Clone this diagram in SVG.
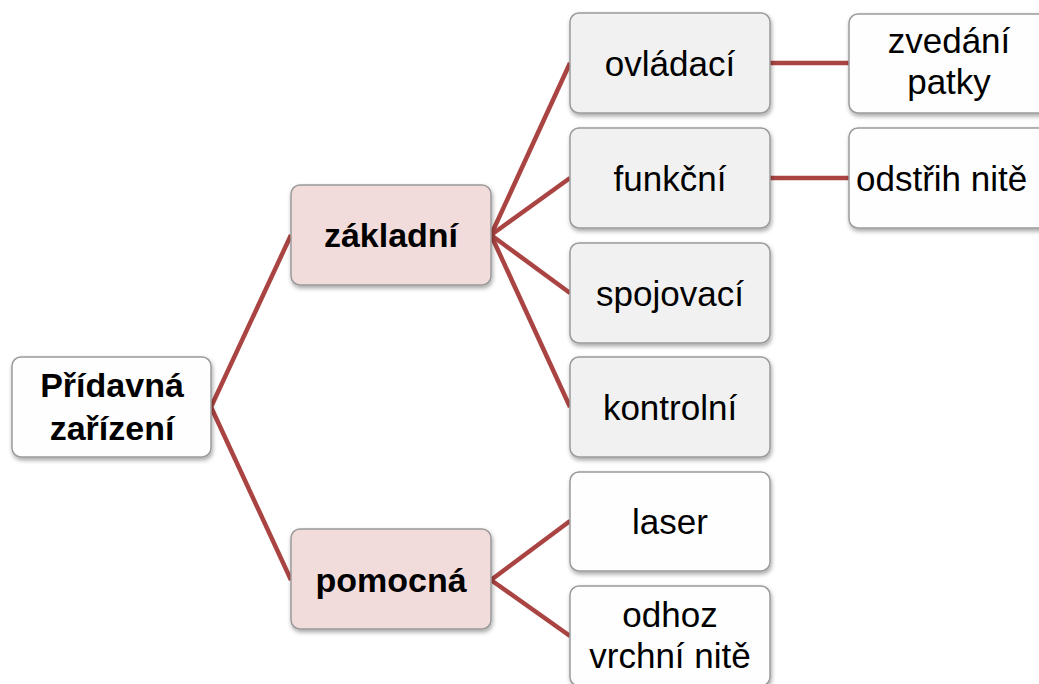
<svg xmlns="http://www.w3.org/2000/svg" width="1039" height="684" viewBox="0 0 1039 684">
  <style>
    .box { stroke: #9a9a9a; stroke-width: 1.5; filter: url(#shadow); }
    .plain { fill: #fefefe; }
    .grey { fill: #f1f1f1; }
    .pink { fill: #f2dcdb; }
    .t { font-family: "Liberation Sans", Arial, sans-serif; font-size: 35px; fill: #000; text-anchor: middle; }
    .b { font-weight: bold; font-size: 34px; }
    .link { stroke: #a94442; stroke-width: 4.5; fill: none; stroke-linejoin: round; }
  </style>
  <defs>
    <filter id="shadow" x="-10%" y="-10%" width="130%" height="140%">
      <feDropShadow dx="1" dy="2.5" stdDeviation="2" flood-color="#000" flood-opacity="0.35"/>
    </filter>
  </defs>
  <rect width="1039" height="684" fill="#ffffff"/>

  <g id="connectors">
    <polyline class="link" points="291,235 211,407 291,580"/>
    <line class="link" x1="491" y1="235" x2="570" y2="63"/>
    <line class="link" x1="491" y1="235" x2="570" y2="178"/>
    <line class="link" x1="491" y1="235" x2="570" y2="293"/>
    <line class="link" x1="491" y1="235" x2="570" y2="407"/>
    <line class="link" x1="491" y1="580" x2="570" y2="521"/>
    <line class="link" x1="491" y1="580" x2="570" y2="636"/>
    <line class="link" x1="770" y1="63" x2="849" y2="63"/>
    <line class="link" x1="770" y1="178" x2="849" y2="178"/>
  </g>

  <g id="node-root">
    <rect class="box plain" x="12" y="357" width="199" height="100" rx="9"/>
    <text class="t b" x="112" y="397">Přídavná</text>
    <text class="t b" x="112" y="440">zařízení</text>
  </g>

  <g id="node-zakladni">
    <rect class="box pink" x="291" y="185" width="200" height="100" rx="9"/>
    <text class="t b" x="391" y="247">základní</text>
  </g>

  <g id="node-pomocna">
    <rect class="box pink" x="291" y="529" width="200" height="100" rx="9"/>
    <text class="t b" x="391" y="592">pomocná</text>
  </g>

  <g id="node-ovladaci">
    <rect class="box grey" x="570" y="13" width="200" height="100" rx="9"/>
    <text class="t" x="670" y="76">ovládací</text>
  </g>

  <g id="node-funkcni">
    <rect class="box grey" x="570" y="128" width="200" height="100" rx="9"/>
    <text class="t" x="670" y="191">funkční</text>
  </g>

  <g id="node-spojovaci">
    <rect class="box grey" x="570" y="243" width="200" height="100" rx="9"/>
    <text class="t" x="670" y="306">spojovací</text>
  </g>

  <g id="node-kontrolni">
    <rect class="box grey" x="570" y="357" width="200" height="100" rx="9"/>
    <text class="t" x="670" y="420">kontrolní</text>
  </g>

  <g id="node-laser">
    <rect class="box plain" x="570" y="472" width="200" height="99" rx="9"/>
    <text class="t" x="670" y="534">laser</text>
  </g>

  <g id="node-odhoz">
    <rect class="box plain" x="570" y="586" width="200" height="100" rx="9"/>
    <text class="t" x="670" y="627">odhoz</text>
    <text class="t" x="670" y="668">vrchní nitě</text>
  </g>

  <g id="node-zvedani">
    <rect class="box plain" x="849" y="14" width="200" height="99" rx="9"/>
    <text class="t" x="949" y="53">zvedání</text>
    <text class="t" x="949" y="94">patky</text>
  </g>

  <g id="node-odstrih">
    <rect class="box plain" x="849" y="128" width="200" height="100" rx="9"/>
    <text class="t" x="856" y="191" style="text-anchor:start">odstřih nitě</text>
  </g>
</svg>
